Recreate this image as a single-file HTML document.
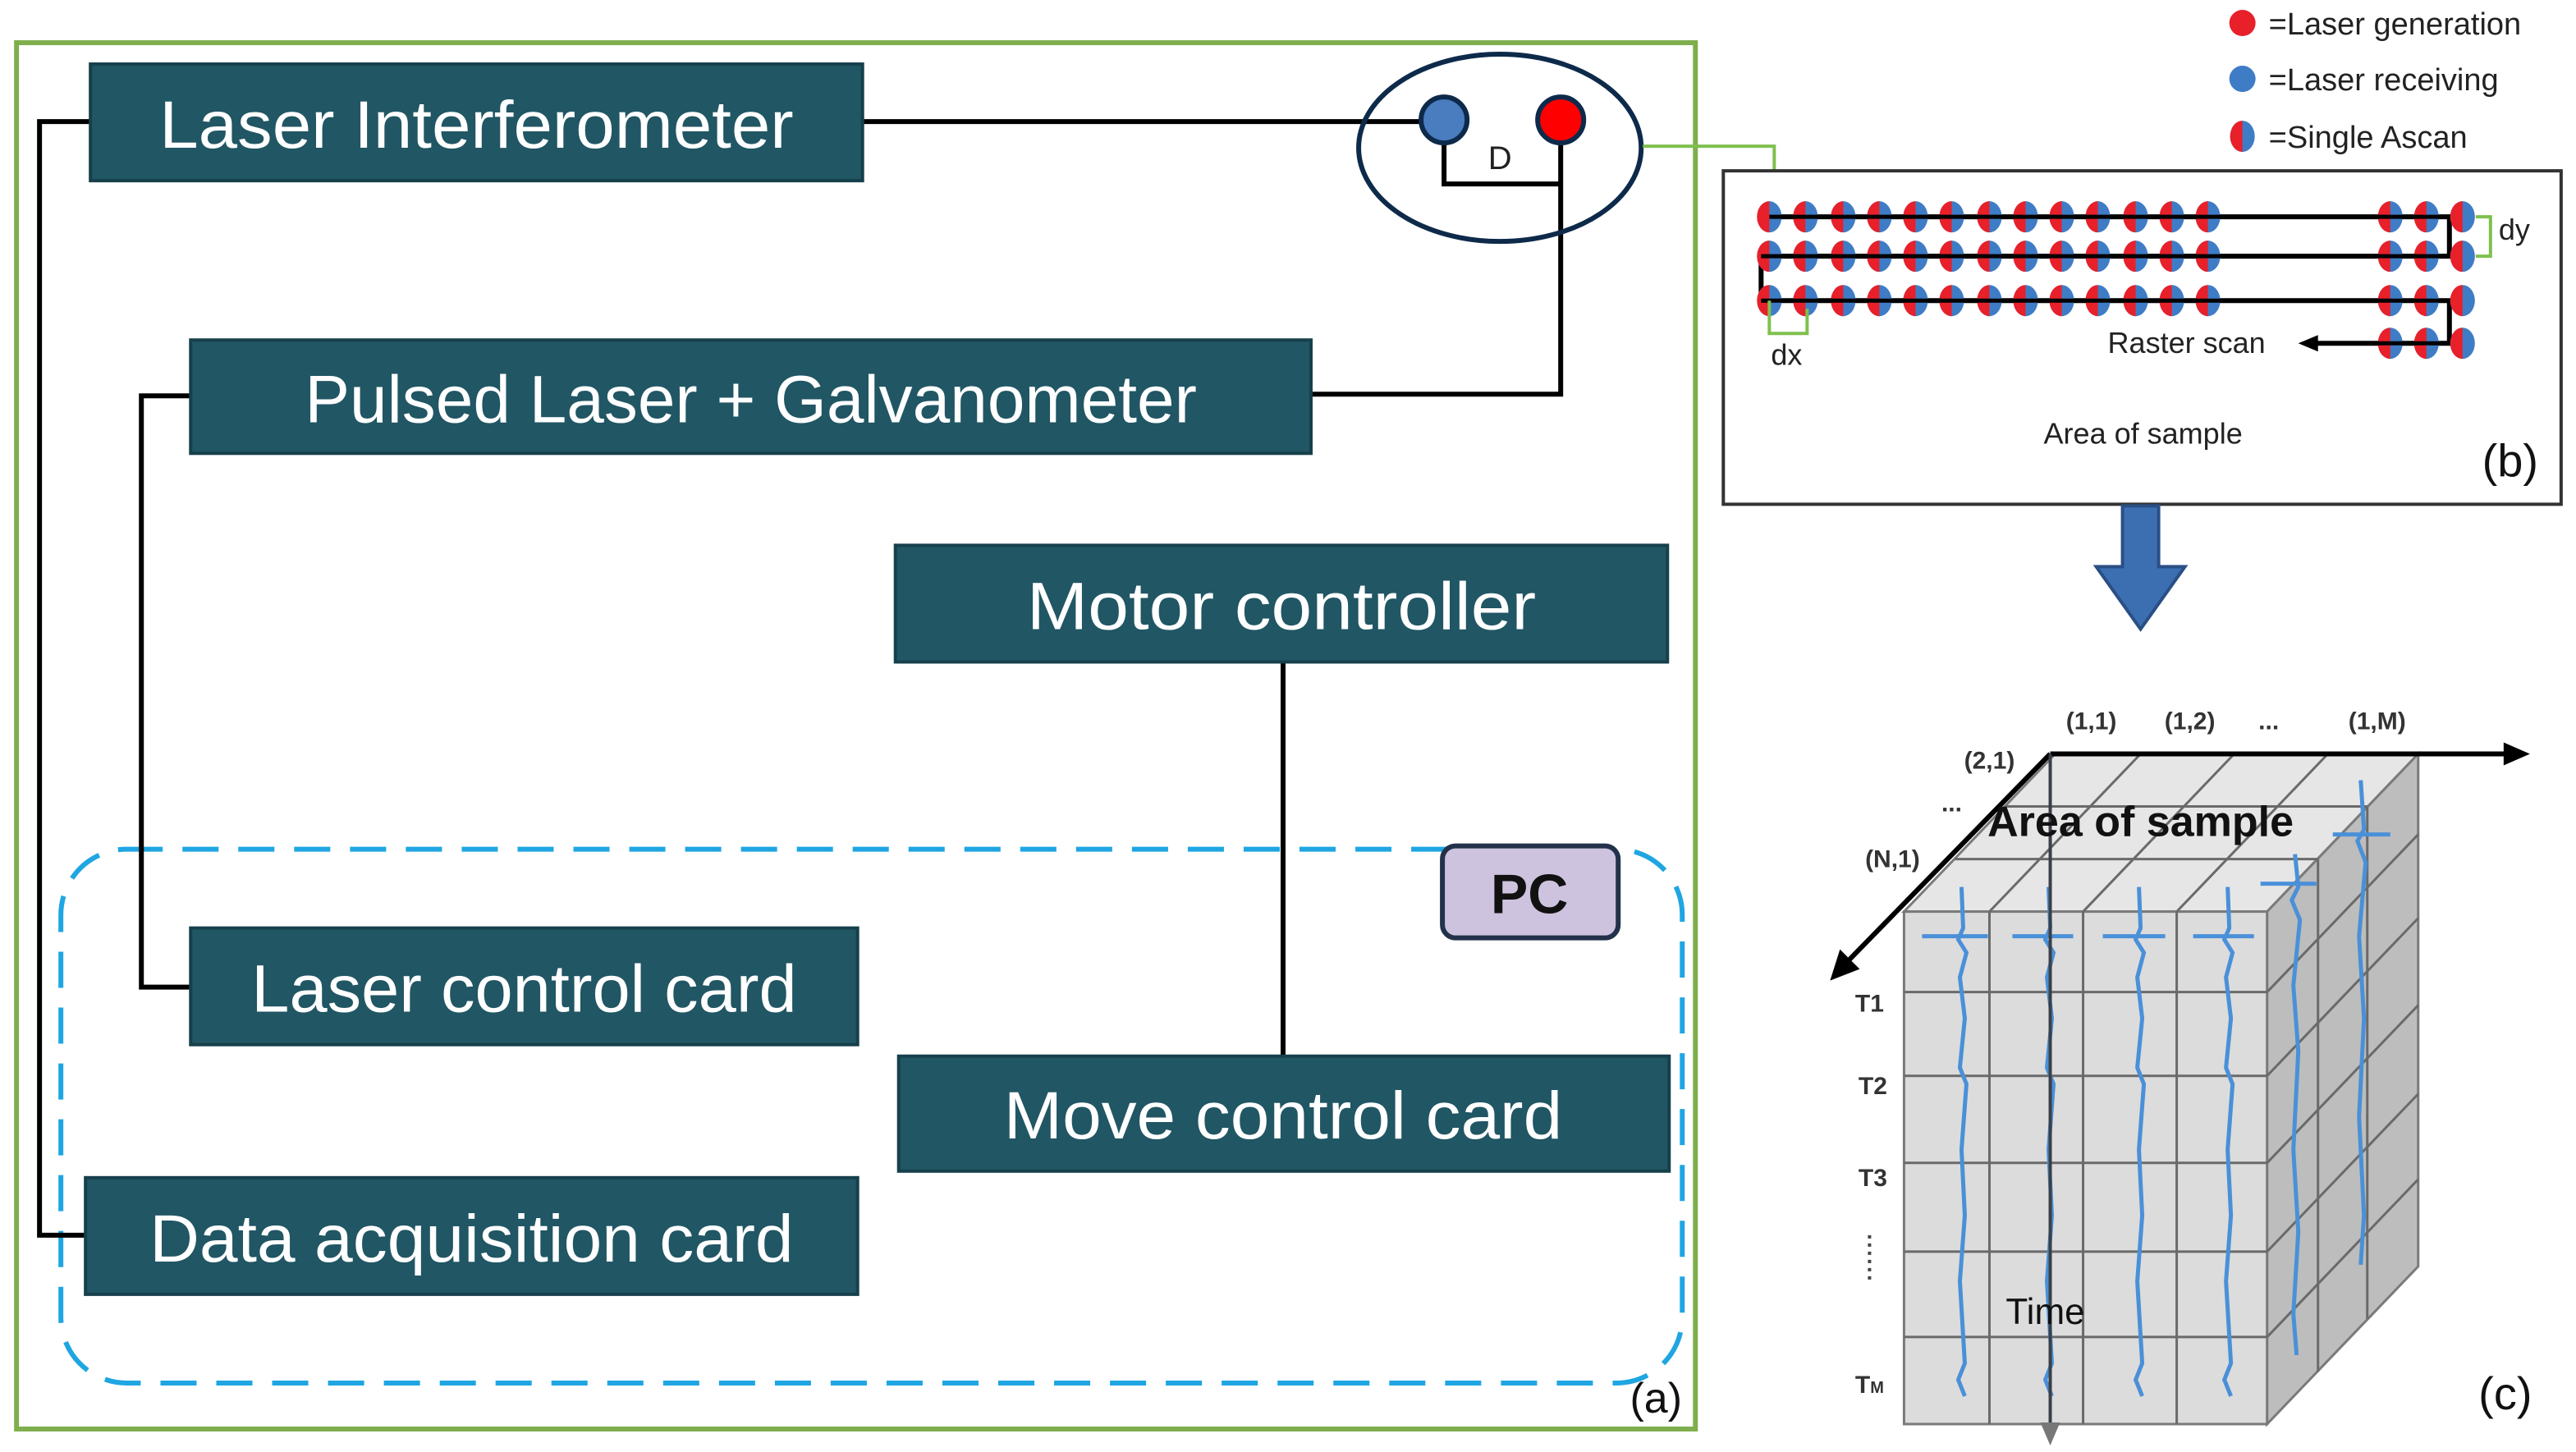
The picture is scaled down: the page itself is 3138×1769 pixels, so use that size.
<!DOCTYPE html>
<html><head><meta charset="utf-8"><style>
html,body{margin:0;padding:0;background:#fff;}
svg{display:block;}
text{font-family:"Liberation Sans",sans-serif;}
</style></head><body>
<svg width="3138" height="1769" viewBox="0 0 1568 884" xmlns="http://www.w3.org/2000/svg">
<defs>
<g id="dot">
<ellipse cx="0" cy="0" rx="7.5" ry="9.5" fill="#3f7cc6"/>
<path d="M0,-9.5 A7.5,9.5 0 0,0 0,9.5 Z" fill="#e8202a"/>
</g>
</defs>
<rect x="0" y="0" width="1568" height="884" fill="#fff"/>
<rect x="10" y="26" width="1022" height="844" fill="none" stroke="#7fae4e" stroke-width="3"/>
<rect x="37" y="517" width="987" height="325" rx="40" fill="none" stroke="#1fa6e2" stroke-width="3" stroke-dasharray="22,12"/>
<g stroke="#000" stroke-width="3" fill="none">
<polyline points="55,74 24,74 24,752 52,752"/>
<polyline points="116,241 86,241 86,601 116,601"/>
<line x1="781" y1="403" x2="781" y2="643"/>
<line x1="525" y1="74" x2="865" y2="74"/>
<polyline points="879,88 879,112 950,112"/>
<polyline points="950,88 950,240 798,240"/>
</g>
<ellipse cx="913" cy="90" rx="86" ry="57" fill="none" stroke="#0e2a4a" stroke-width="3"/>
<circle cx="879" cy="73" r="14" fill="#4a7cc0" stroke="#0e2a4a" stroke-width="3"/>
<circle cx="950" cy="73" r="14" fill="#ff0000" stroke="#0e2a4a" stroke-width="3"/>
<text x="913" y="103" font-size="20" text-anchor="middle" fill="#222">D</text>
<polyline points="1000,89 1080,89 1080,132" fill="none" stroke="#7fc04e" stroke-width="2"/>
<g fill="#215664" stroke="#16404b" stroke-width="2">
<rect x="55" y="39" width="470" height="71"/>
<rect x="116" y="207" width="682" height="69"/>
<rect x="545" y="332" width="470" height="71"/>
<rect x="116" y="565" width="406" height="71"/>
<rect x="547" y="643" width="469" height="70"/>
<rect x="52" y="717" width="470" height="71"/>
</g>
<g fill="#fff" font-size="41" text-anchor="middle">
<text x="290" y="90" textLength="386" lengthAdjust="spacingAndGlyphs">Laser Interferometer</text>
<text x="457" y="257" textLength="543" lengthAdjust="spacingAndGlyphs">Pulsed Laser + Galvanometer</text>
<text x="780" y="383" textLength="310" lengthAdjust="spacingAndGlyphs">Motor controller</text>
<text x="319" y="616" textLength="332" lengthAdjust="spacingAndGlyphs">Laser control card</text>
<text x="781" y="693" textLength="340" lengthAdjust="spacingAndGlyphs">Move control card</text>
<text x="287" y="768" textLength="392" lengthAdjust="spacingAndGlyphs">Data acquisition card</text>
</g>
<rect x="878" y="515" width="107" height="56" rx="8" fill="#cdc3de" stroke="#23324a" stroke-width="3"/>
<text x="931" y="556" font-size="34" font-weight="bold" text-anchor="middle" fill="#111">PC</text>
<text x="1008" y="860" font-size="26" text-anchor="middle" fill="#111">(a)</text>
<circle cx="1365" cy="14" r="8" fill="#e8202a"/>
<circle cx="1365" cy="48" r="8" fill="#3f7cc6"/>
<use href="#dot" x="1365" y="83"/>
<g font-size="19" fill="#222">
<text x="1381" y="21">=Laser generation</text>
<text x="1381" y="55">=Laser receiving</text>
<text x="1381" y="90">=Single Ascan</text>
</g>
<rect x="1049" y="104" width="510" height="203" fill="#fff" stroke="#333" stroke-width="2"/>
<g stroke="#000" stroke-width="3" fill="none">
<polyline points="1077,132 1491,132 1491,156 1072,156 1072,183 1491,183 1491,209 1410,209"/>
</g>
<polygon points="1399,209 1411,204 1411,214" fill="#000"/>
<g>
<use href="#dot" x="1077" y="132"/><use href="#dot" x="1099" y="132"/><use href="#dot" x="1122" y="132"/><use href="#dot" x="1144" y="132"/><use href="#dot" x="1166" y="132"/><use href="#dot" x="1188" y="132"/><use href="#dot" x="1211" y="132"/><use href="#dot" x="1233" y="132"/><use href="#dot" x="1255" y="132"/><use href="#dot" x="1277" y="132"/><use href="#dot" x="1300" y="132"/><use href="#dot" x="1322" y="132"/><use href="#dot" x="1344" y="132"/><use href="#dot" x="1455" y="132"/><use href="#dot" x="1477" y="132"/><use href="#dot" x="1499" y="132"/>
<use href="#dot" x="1077" y="156"/><use href="#dot" x="1099" y="156"/><use href="#dot" x="1122" y="156"/><use href="#dot" x="1144" y="156"/><use href="#dot" x="1166" y="156"/><use href="#dot" x="1188" y="156"/><use href="#dot" x="1211" y="156"/><use href="#dot" x="1233" y="156"/><use href="#dot" x="1255" y="156"/><use href="#dot" x="1277" y="156"/><use href="#dot" x="1300" y="156"/><use href="#dot" x="1322" y="156"/><use href="#dot" x="1344" y="156"/><use href="#dot" x="1455" y="156"/><use href="#dot" x="1477" y="156"/><use href="#dot" x="1499" y="156"/>
<use href="#dot" x="1077" y="183"/><use href="#dot" x="1099" y="183"/><use href="#dot" x="1122" y="183"/><use href="#dot" x="1144" y="183"/><use href="#dot" x="1166" y="183"/><use href="#dot" x="1188" y="183"/><use href="#dot" x="1211" y="183"/><use href="#dot" x="1233" y="183"/><use href="#dot" x="1255" y="183"/><use href="#dot" x="1277" y="183"/><use href="#dot" x="1300" y="183"/><use href="#dot" x="1322" y="183"/><use href="#dot" x="1344" y="183"/><use href="#dot" x="1455" y="183"/><use href="#dot" x="1477" y="183"/><use href="#dot" x="1499" y="183"/>
<use href="#dot" x="1455" y="209"/><use href="#dot" x="1477" y="209"/><use href="#dot" x="1499" y="209"/>
</g>
<g stroke="#000" stroke-width="2.5">
<line x1="1077" y1="132" x2="1491" y2="132"/><line x1="1072" y1="156" x2="1491" y2="156"/><line x1="1072" y1="183" x2="1491" y2="183"/><line x1="1410" y1="209" x2="1491" y2="209"/>
</g>
<g stroke="#7fc04e" stroke-width="2" fill="none">
<polyline points="1077,183 1077,203 1100,203 1100,188"/>
<polyline points="1507,132 1516,132 1516,156 1507,156"/>
</g>
<g font-size="18" fill="#222">
<text x="1078" y="222">dx</text>
<text x="1521" y="146">dy</text>
<text x="1283" y="215">Raster scan</text>
<text x="1244" y="270">Area of sample</text>
</g>
<text x="1528" y="290" font-size="28" text-anchor="middle" fill="#111">(b)</text>
<polygon points="1292,308 1314,308 1314,345 1330,345 1303,383 1276,345 1292,345" fill="#3c6fb2" stroke="#2a4f85" stroke-width="2"/>
<g stroke="#7a7a7a" stroke-width="1.5">
<polygon points="1159,555 1251,459 1472,459 1380,555" fill="#e6e6e6"/>
<polygon points="1380,555 1472,459 1472,771 1380,867" fill="#bdbdbd"/>
<rect x="1159" y="555" width="221" height="312" fill="#dcdcdc"/>
</g>
<g stroke="#6a6a6a" stroke-width="1.5" fill="none">
<line x1="1159" y1="604" x2="1380" y2="604"/><line x1="1159" y1="655" x2="1380" y2="655"/><line x1="1159" y1="708" x2="1380" y2="708"/><line x1="1159" y1="762" x2="1380" y2="762"/><line x1="1159" y1="814" x2="1380" y2="814"/>
<line x1="1211" y1="555" x2="1211" y2="867"/><line x1="1268" y1="555" x2="1268" y2="867"/><line x1="1325" y1="555" x2="1325" y2="867"/>
<line x1="1380" y1="604" x2="1472" y2="508"/><line x1="1380" y1="655" x2="1472" y2="559"/><line x1="1380" y1="708" x2="1472" y2="612"/><line x1="1380" y1="762" x2="1472" y2="666"/><line x1="1380" y1="814" x2="1472" y2="718"/>
<line x1="1411" y1="523" x2="1411" y2="835"/><line x1="1441" y1="491" x2="1441" y2="803"/>
<line x1="1190" y1="523" x2="1411" y2="523"/><line x1="1220" y1="491" x2="1441" y2="491"/>
<line x1="1211" y1="555" x2="1303" y2="459"/><line x1="1268" y1="555" x2="1360" y2="459"/><line x1="1325" y1="555" x2="1417" y2="459"/>
</g>
<g stroke="#4a90d9" stroke-width="2.5" fill="none">
<polyline points="1194,540 1195,565 1192,572 1197,580 1193,595 1196,620 1193,650 1197,660 1194,700 1196,740 1193,780 1196,830 1192,840 1196,850"/>
<polyline points="1247,540 1248,565 1245,572 1250,580 1246,595 1249,620 1246,650 1250,660 1247,700 1249,740 1246,780 1249,830 1245,840 1249,850"/>
<polyline points="1302,540 1303,565 1300,572 1305,580 1301,595 1304,620 1301,650 1305,660 1302,700 1304,740 1301,780 1304,830 1300,840 1304,850"/>
<polyline points="1356,540 1357,565 1354,572 1359,580 1355,595 1358,620 1355,650 1359,660 1356,700 1358,740 1355,780 1358,830 1354,840 1358,850"/>
<polyline points="1397,520 1399,540 1395,548 1400,560 1396,600 1399,640 1396,700 1399,750 1396,800 1398,825"/>
<polyline points="1437,475 1439,505 1435,512 1440,525 1436,570 1439,620 1436,680 1439,740 1437,770"/>
<line x1="1170" y1="570" x2="1210" y2="570"/><line x1="1225" y1="570" x2="1262" y2="570"/><line x1="1280" y1="570" x2="1318" y2="570"/><line x1="1335" y1="570" x2="1372" y2="570"/>
<line x1="1376" y1="538" x2="1410" y2="538"/><line x1="1420" y1="508" x2="1455" y2="508"/>
</g>
<g stroke="#000" stroke-width="3" fill="none">
<line x1="1248" y1="459" x2="1528" y2="459"/>
<line x1="1248" y1="459" x2="1124" y2="586"/>
</g>
<polygon points="1540,459 1524,452 1524,466" fill="#000"/>
<polygon points="1114,597 1120,578 1132,590" fill="#000"/>
<line x1="1248" y1="459" x2="1248" y2="868" stroke="#3a3f48" stroke-width="2"/>
<polygon points="1248,880 1242,866 1254,866" fill="#777"/>
<g font-size="15" font-weight="bold" fill="#333" text-anchor="middle">
<text x="1273" y="444">(1,1)</text><text x="1333" y="444">(1,2)</text><text x="1381" y="444">...</text><text x="1447" y="444">(1,M)</text>
<text x="1211" y="468">(2,1)</text><text x="1188" y="494">...</text><text x="1152" y="528">(N,1)</text>
<text x="1138" y="616">T1</text><text x="1140" y="666">T2</text><text x="1140" y="722">T3</text>
<text x="1138" y="848">T<tspan font-size="10">M</tspan></text>
</g>
<line x1="1138" y1="752" x2="1138" y2="782" stroke="#444" stroke-width="2" stroke-dasharray="2,3"/>
<text x="1303" y="509" font-size="26" font-weight="bold" text-anchor="middle" fill="#111">Area of sample</text>
<text x="1245" y="806" font-size="22" text-anchor="middle" fill="#111">Time</text>
<text x="1525" y="858" font-size="28" text-anchor="middle" fill="#111">(c)</text>
</svg>
</body></html>
